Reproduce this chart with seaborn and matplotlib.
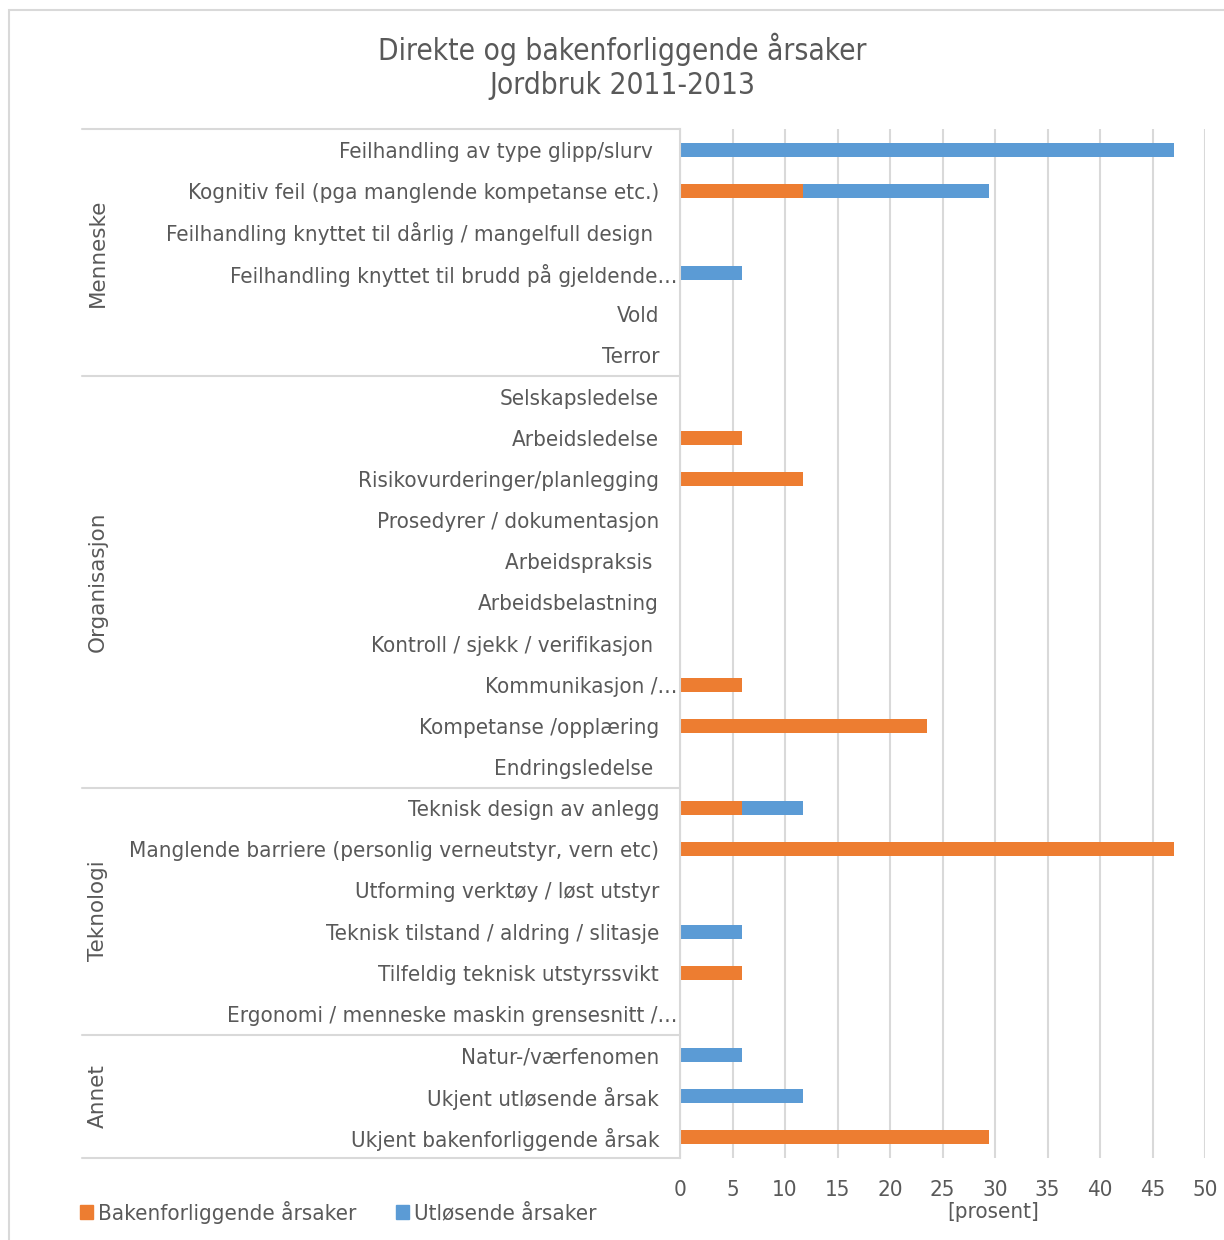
import matplotlib
matplotlib.use("Agg")
import matplotlib.pyplot as plt
from matplotlib.lines import Line2D
from matplotlib.patches import Rectangle, Patch
import seaborn as sns
import pandas as pd

sns.set_theme(style="white")
plt.rcParams['font.family'] = ['DejaVu Sans']
plt.rcParams['font.stretch'] = 'condensed'

categories = [
    "Feilhandling av type glipp/slurv ",
    "Kognitiv feil (pga manglende kompetanse etc.)",
    "Feilhandling knyttet til dårlig / mangelfull design ",
    "Feilhandling knyttet til brudd på gjeldende…",
    "Vold",
    "Terror",
    "Selskapsledelse",
    "Arbeidsledelse",
    "Risikovurderinger/planlegging",
    "Prosedyrer / dokumentasjon",
    "Arbeidspraksis ",
    "Arbeidsbelastning",
    "Kontroll / sjekk / verifikasjon ",
    "Kommunikasjon /…",
    "Kompetanse /opplæring",
    "Endringsledelse ",
    "Teknisk design av anlegg",
    "Manglende barriere (personlig verneutstyr, vern etc)",
    "Utforming verktøy / løst utstyr",
    "Teknisk tilstand / aldring / slitasje",
    "Tilfeldig teknisk utstyrssvikt",
    "Ergonomi / menneske maskin grensesnitt /…",
    "Natur-/værfenomen",
    "Ukjent utløsende årsak",
    "Ukjent bakenforliggende årsak",
]
bakenforliggende = [0, 11.76, 0, 0, 0, 0,
                    0, 5.88, 11.76, 0, 0, 0, 0, 5.88, 23.53, 0,
                    5.88, 47.06, 0, 0, 5.88, 0,
                    0, 0, 29.41]
utlosende = [47.06, 17.65, 0, 5.88, 0, 0,
             0, 0, 0, 0, 0, 0, 0, 0, 0, 0,
             5.88, 0, 0, 5.88, 0, 0,
             5.88, 11.76, 0]
groups = ["Menneske", "Organisasjon", "Teknologi", "Annet"]
group_sizes = [6, 10, 6, 3]
xticks = [0, 5, 10, 15, 20, 25, 30, 35, 40, 45, 50]

ORANGE = "#ED7D31"
BLUE = "#5B9BD5"
TXT = "#595959"
GRID = "#D9D9D9"
FS = 16

df = pd.DataFrame({
    "kategori": categories,
    "bak": bakenforliggende,
    "utl": utlosende,
})
df["total"] = df["bak"] + df["utl"]

fig = plt.figure(figsize=(12.24, 12.40), dpi=100)
ax = fig.add_axes([680 / 1224, 1 - 1158 / 1240, 525 / 1224, (1158 - 129) / 1240])

# stacked bars: the total in blue, the background-cause share on top in orange
sns.barplot(data=df, y="kategori", x="total", color=BLUE, orient="h",
            width=0.34, ax=ax, saturation=1, zorder=3, linewidth=0)
sns.barplot(data=df, y="kategori", x="bak", color=ORANGE, orient="h",
            width=0.34, ax=ax, saturation=1, zorder=4, linewidth=0)

ax.set_xlim(0, 50)
ax.set_ylim(len(categories) - 0.5, -0.5)
ax.set_xticks(xticks)
ax.set_xticklabels([str(v) for v in xticks], fontsize=FS, color=TXT)
ax.xaxis.grid(True, color=GRID, linewidth=1.5, zorder=0)
ax.yaxis.grid(False)
ax.tick_params(axis="both", length=0)
ax.tick_params(axis="x", pad=16)
ax.set_ylabel("")
ax.set_xlabel("[prosent]", fontsize=FS, color=TXT, labelpad=2)
ax.xaxis.set_label_coords(0.596, -0.043)
for side in ["top", "right", "bottom"]:
    ax.spines[side].set_visible(False)
ax.spines["left"].set_color(GRID)
ax.spines["left"].set_linewidth(1.5)
ax.spines["left"].set_zorder(5)

for lab in ax.get_yticklabels():
    lab.set_fontsize(FS)
    lab.set_color(TXT)
for tick, cat in zip(ax.yaxis.get_major_ticks(), categories):
    tick.set_pad(2 if cat.endswith("…") else 15)

# group brackets on the category axis
x_left = (82 - 680) / 525
start = 0
bounds = [-0.5]
for g, n in zip(groups, group_sizes):
    mid = start + (n - 1) / 2
    ax.text(-(680 - 98) / 525, mid, g, rotation=90, ha="center", va="center",
            fontsize=15.5, color=TXT, transform=ax.get_yaxis_transform(),
            fontstretch='normal')
    start += n
    bounds.append(start - 0.5)
for b in bounds:
    ax.add_line(Line2D([x_left, 0], [b, b], color=GRID, linewidth=1.5,
                       transform=ax.get_yaxis_transform(), clip_on=False))

fig.text(622 / 1224, 1 - 49 / 1240, "Direkte og bakenforliggende årsaker",
         ha="center", va="center", fontsize=21.4, color=TXT)
fig.text(622 / 1224, 1 - 85 / 1240, "Jordbruk 2011-2013",
         ha="center", va="center", fontsize=21.4, color=TXT)

handles = [Patch(color=ORANGE, label="Bakenforliggende årsaker"),
           Patch(color=BLUE, label="Utløsende årsaker")]
fig.legend(handles=handles, loc="center left",
           bbox_to_anchor=(60 / 1224, 1 - 1212 / 1240), ncol=2, frameon=False,
           fontsize=FS, handlelength=0.6, handleheight=0.6, handletextpad=0.2,
           columnspacing=1.8, labelcolor=TXT)

# chart area border
fig.add_artist(Rectangle((9 / 1224, -0.01), 1.02, 1 - 10 / 1240 + 0.01,
                         transform=fig.transFigure, fill=False,
                         edgecolor=GRID, linewidth=1.5))

fig.savefig("out.png", dpi=100, facecolor="white")
